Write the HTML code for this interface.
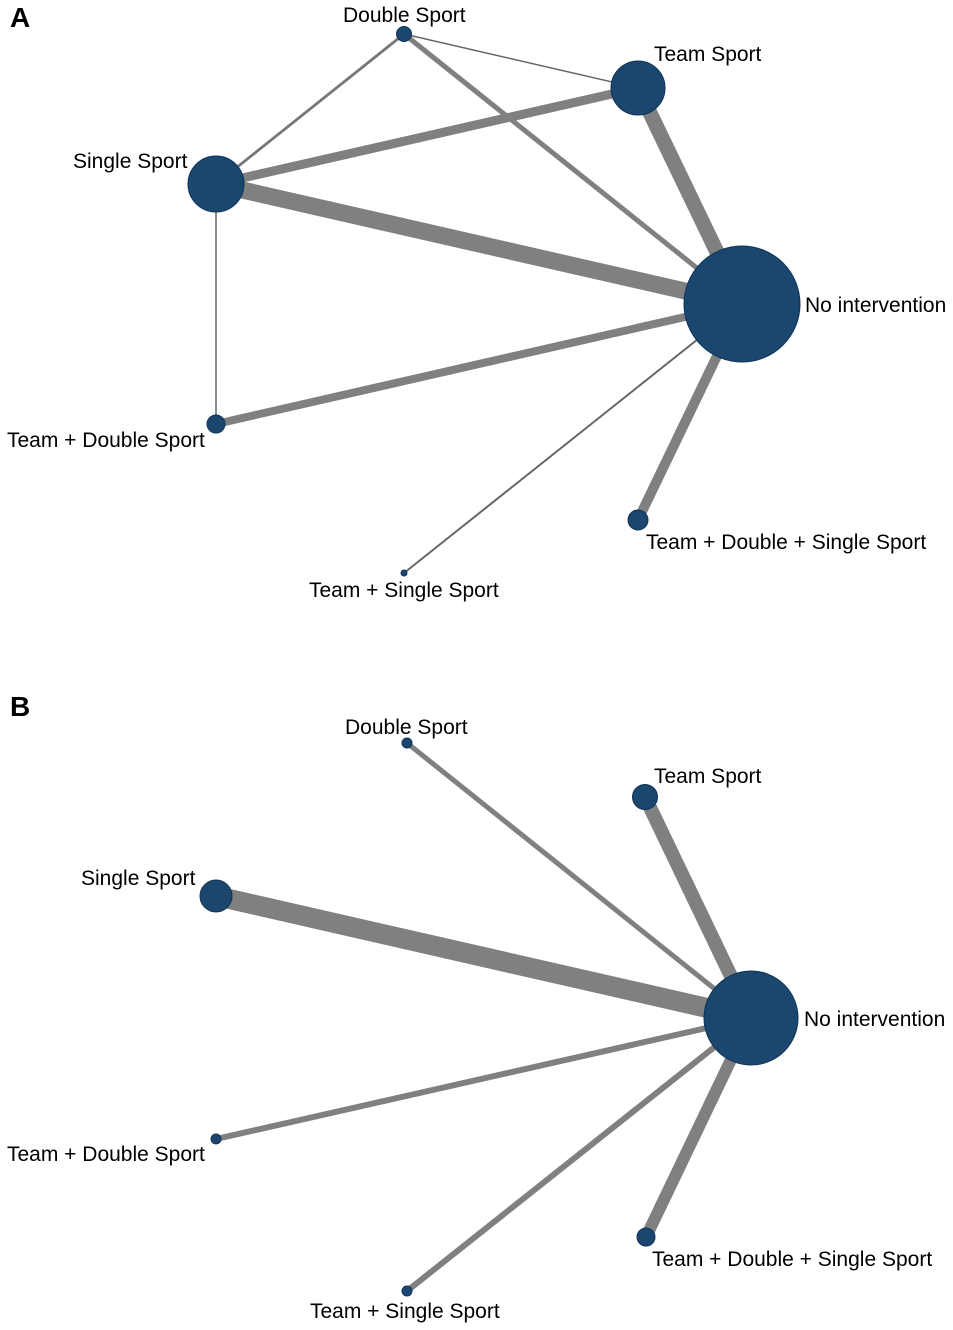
<!DOCTYPE html>
<html><head><meta charset="utf-8"><style>
html,body{margin:0;padding:0;background:#fff;}
svg{display:block;}
text{font-family:"Liberation Sans",Arial,sans-serif;font-size:21px;fill:#000;}
.e{stroke:#808080;fill:none;}
.n{fill:#1b466e;stroke:#0f3358;stroke-width:1;}
</style></head><body>
<svg width="953" height="1330" viewBox="0 0 953 1330" xmlns="http://www.w3.org/2000/svg">
<!-- Panel A -->
<text x="10" y="27" style="font-size:28px;font-weight:bold">A</text>
<line class="e" x1="404" y1="34" x2="638" y2="88" stroke-width="1.5" style="stroke:#666"/>
<line class="e" x1="404" y1="34" x2="216" y2="184" stroke-width="2.8" style="stroke:#777"/>
<line class="e" x1="404" y1="34" x2="742" y2="304" stroke-width="5"/>
<line class="e" x1="216" y1="184" x2="638" y2="88" stroke-width="9"/>
<line class="e" x1="638" y1="88" x2="742" y2="304" stroke-width="15"/>
<line class="e" x1="216" y1="184" x2="742" y2="304" stroke-width="17"/>
<line class="e" x1="216" y1="184" x2="216" y2="424" stroke-width="1.5" style="stroke:#666"/>
<line class="e" x1="216" y1="424" x2="742" y2="304" stroke-width="8"/>
<line class="e" x1="404" y1="573" x2="742" y2="304" stroke-width="2" style="stroke:#666"/>
<line class="e" x1="638" y1="520" x2="742" y2="304" stroke-width="10"/>
<circle class="n" cx="404" cy="34" r="7.5"/>
<circle class="n" cx="638" cy="88" r="27"/>
<circle class="n" cx="216" cy="184" r="28"/>
<circle class="n" cx="742" cy="304" r="58"/>
<circle class="n" cx="216" cy="424" r="9"/>
<circle class="n" cx="638" cy="520" r="10"/>
<circle class="n" cx="404" cy="573" r="3"/>
<text x="343" y="22">Double Sport</text>
<text x="654" y="61">Team Sport</text>
<text x="73" y="168">Single Sport</text>
<text x="805" y="312">No intervention</text>
<text x="7" y="447">Team + Double Sport</text>
<text x="646" y="549">Team + Double + Single Sport</text>
<text x="309" y="597">Team + Single Sport</text>
<!-- Panel B -->
<text x="10" y="716" style="font-size:28px;font-weight:bold">B</text>
<line class="e" x1="407" y1="743" x2="751" y2="1018" stroke-width="5"/>
<line class="e" x1="645" y1="797" x2="751" y2="1018" stroke-width="14"/>
<line class="e" x1="216" y1="896" x2="751" y2="1018" stroke-width="20"/>
<line class="e" x1="216" y1="1139" x2="751" y2="1018" stroke-width="6"/>
<line class="e" x1="407" y1="1291" x2="751" y2="1018" stroke-width="6"/>
<line class="e" x1="646" y1="1237" x2="751" y2="1018" stroke-width="12"/>
<circle class="n" cx="407" cy="743" r="5"/>
<circle class="n" cx="645" cy="797" r="12.5"/>
<circle class="n" cx="216" cy="896" r="16"/>
<circle class="n" cx="751" cy="1018" r="47"/>
<circle class="n" cx="216" cy="1139" r="5"/>
<circle class="n" cx="646" cy="1237" r="9"/>
<circle class="n" cx="407" cy="1291" r="5"/>
<text x="345" y="734">Double Sport</text>
<text x="654" y="783">Team Sport</text>
<text x="81" y="885">Single Sport</text>
<text x="804" y="1026">No intervention</text>
<text x="7" y="1161">Team + Double Sport</text>
<text x="652" y="1266">Team + Double + Single Sport</text>
<text x="310" y="1318">Team + Single Sport</text>
</svg>
</body></html>
